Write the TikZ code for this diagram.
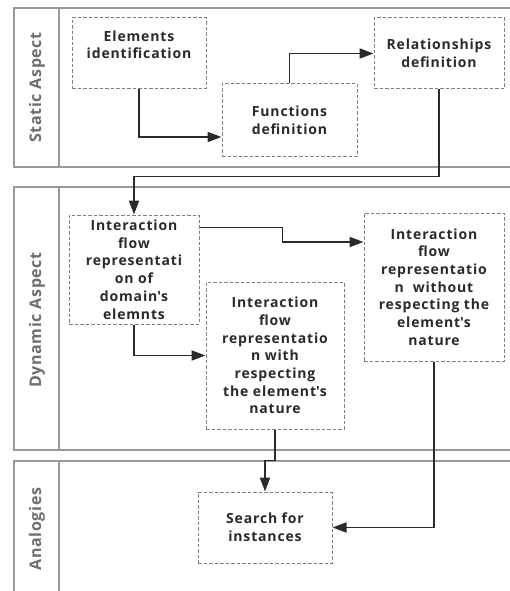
\documentclass[tikz,border=0pt]{standalone}
\usepackage{fontspec}
\setmainfont{Open Sans}
\newfontfamily\boxfont{Open Sans}[LetterSpace=6]
\newfontfamily\lanefont{Open Sans}[LetterSpace=4]
\usetikzlibrary{arrows.meta}
\usetikzlibrary{calc}

\definecolor{boxtext}{HTML}{2A2A2A}
\definecolor{boxline}{HTML}{808080}
\definecolor{laneline}{HTML}{999999}
\definecolor{lanetext}{HTML}{6E6E6E}

\begin{document}
\begin{tikzpicture}[x=1pt,y=-1pt,
  lane/.style={draw=laneline,line width=1.3pt},
  lane label/.style={rotate=90,font=\lanefont\fontsize{16}{18}\selectfont\bfseries,text=lanetext},
  activity/.style={draw=boxline,dash pattern=on 3.5pt off 2pt,line width=1pt,
    align=center,inner sep=2pt,text=boxtext,
    font=\boxfont\fontsize{14}{17.7}\selectfont\bfseries},
  flow/.style={draw=boxtext,line width=1.9pt,-{Triangle[length=14pt,width=10pt]}}]

  \useasboundingbox (0,0) rectangle (510,591);
  \clip (0,0) rectangle (510,591);

  % lanes
  \draw[lane] (14,8) rectangle (530,167);
  \draw[lane] (59,8) -- (59,167);
  \draw[lane] (14,187) rectangle (530,450);
  \draw[lane] (59,187) -- (59,450);
  \draw[lane] (14,600) -- (14,461) -- (530,461);
  \draw[lane] (59,461) -- (59,600);

  \node[lane label] (static) at (37,87.5) {Static Aspect};
  \node[lane label] (dynamic) at (37,320) {Dynamic Aspect};
  \node[lane label] (analog) at (37,529) {Analogies};

  % static aspect
  \node[activity,minimum width=134pt,minimum height=71pt] (elem) at (139,53.5)
    {Elements\\identification\\\mbox{}};
  \node[activity,minimum width=135pt,minimum height=72pt] (func) at (289.5,120)
    {Functions\\definition};
  \node[activity,minimum width=130pt,minimum height=71pt] (rel) at (439,53.5)
    {Relationships\\definition};

  % dynamic aspect
  \node[activity,minimum width=130pt,minimum height=109pt] (flowdom) at (134,269.5)
    {Interaction\\flow\\representati\\on of\\domain\textquotesingle s\\elemnts};
  \node[activity,minimum width=138pt,minimum height=147pt] (flowwith) at (275,355.5)
    {Interaction\\flow\\representatio\\n with\\respecting\\the element\textquotesingle s\\nature};
  \node[activity,minimum width=140pt,minimum height=148pt] (flowwithout) at (434,287)
    {Interaction\\flow\\representatio\\n\ \ without\\respecting the\\element\textquotesingle s\\nature};

  % analogies
  \node[activity,minimum width=134pt,minimum height=71pt] (search) at (265,527.5)
    {Search for\\instances};

  \draw[flow] (elem.south) |- ([yshift=-17pt]func.west);
  \draw[flow] (func.north) |- (rel.west);
  \draw[flow] (rel.south) -- ++(0,87) -| (flowdom.north);
  \draw[flow] ([yshift=42pt]flowdom.east) -- ++(83,0) |- ([yshift=45pt]flowwithout.west);
  \draw[flow] (flowdom.south) |- (flowwith.west);
  \draw[flow] (flowwith.south) -- ++(0,31) -| (search.north);
  \draw[flow] (flowwithout.south) |- (search.east);
\end{tikzpicture}
\end{document}
